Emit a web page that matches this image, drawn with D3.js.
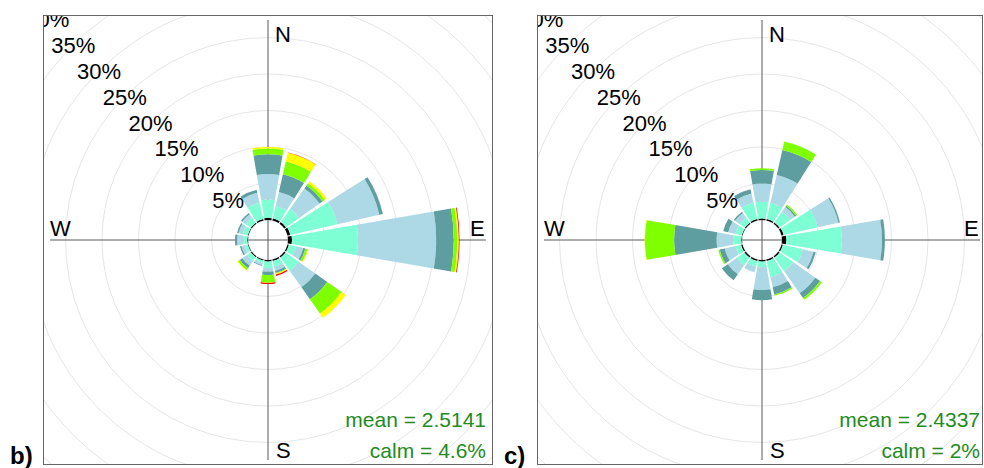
<!DOCTYPE html>
<html>
<head>
<meta charset="utf-8">
<script src="https://cdn.jsdelivr.net/npm/d3@7"></script>
<style>
  body { margin: 0; background: #fff; }
  svg { display: block; font-family: "Liberation Sans", Arial, sans-serif; }
</style>
</head>
<body>
<svg id="chart" width="984" height="468"></svg>
<script>
// wind directions (degrees, clockwise from north)
var directions = [0, 22.5, 45, 67.5, 90, 112.5, 135, 157.5, 180, 202.5, 225, 247.5, 270, 292.5, 315, 337.5];
var binColours = ["black", "aquamarine", "lightblue", "cadetblue", "chartreuse", "yellow", "red"];
var ringTicks = [5, 10, 15, 20, 25, 30, 35, 40];
var compass = ["N", "E", "S", "W"];

// panel b) - percentage of time per direction for each speed bin
var bBlack  = [0.3, 0.3, 0.3, 0.4, 0.55, 0.2, 0.2, 0.2, 0.2, 0.15, 0.15, 0.1, 0.1, 0.1, 0.15, 0.2];
var bAqua   = [2.5, 1.7, 2.2, 6.6, 9.05, 1.0, 2.2, 0.8, 0.9, 0.35, 0.65, 0.4, 0.5, 0.7, 0.85, 2.3];
var bLight  = [3.5, 2.0, 3.4, 5.9, 10.7, 1.0, 2.8, 0.6, 0.5, 0.3, 0.8, 0.5, 0.9, 0.6, 0.6, 1.4];
var bCadet  = [2.7, 2.5, 0.5, 0.5, 2.4, 0.3, 2.0, 0.3, 0.45, 0.1, 0.4, 0.2, 0.3, 0.2, 0.2, 0.4];
var bChart  = [0.8, 1.8, 0.4, 0, 0.5, 0.3, 2.4, 0.1, 1.05, 0, 0.3, 0, 0, 0, 0, 0];
var bYellow = [0.2, 1.2, 0.3, 0, 0.2, 0.1, 0.7, 0.1, 0.05, 0, 0.1, 0, 0, 0, 0, 0];
var bRed    = [0, 0.05, 0, 0, 0.1, 0, 0, 0.2, 0.15, 0, 0, 0, 0, 0, 0, 0];

// panel c)
var cBlack  = [0.2, 0.2, 0.2, 0.3, 0.6, 0.2, 0.2, 0.2, 0.2, 0.2, 0.2, 0.2, 0.1, 0.1, 0.15, 0.2];
var cAqua   = [2.3, 2.3, 1.8, 4.8, 7.6, 2.8, 2.3, 2.3, 0.8, 0.8, 1.3, 0.8, 1.1, 0.9, 0.85, 2.3];
var cLight  = [2.5, 3.9, 0.8, 2.9, 5.5, 1.5, 3.7, 1.4, 3.1, 0.8, 1.5, 1.5, 2.3, 1.0, 0.8, 1.3];
var cCadet  = [1.85, 3.5, 0.2, 0.2, 0.4, 0.3, 0.8, 1.0, 1.4, 0, 1.0, 0.7, 5.8, 0.7, 0.2, 0.6];
var cChart  = [0.25, 1.2, 0.2, 0, 0, 0, 0.3, 0.2, 0, 0, 0, 0.2, 4.0, 0, 0, 0];
var cYellow = [0, 0, 0, 0, 0, 0, 0, 0, 0, 0, 0, 0, 0.05, 0, 0, 0];
var cRed    = [0, 0, 0, 0, 0, 0, 0, 0, 0, 0, 0, 0, 0, 0, 0, 0];

var panelTags = ["b)", "c)"];
var meanText = ["mean = 2.5141", "mean = 2.4337"];
var calmText = ["calm = 4.6%", "calm = 2%"];

var svg = d3.select("#chart");

var panels = [
  {tag: panelTags[0], mean: meanText[0], calm: calmText[0], bins: [bBlack, bAqua, bLight, bCadet, bChart, bYellow, bRed], cx: 268, cy: 240, x0: 43, w: 450},
  {tag: panelTags[1], mean: meanText[1], calm: calmText[1], bins: [cBlack, cAqua, cLight, cCadet, cChart, cYellow, cRed], cx: 762, cy: 240, x0: 537, w: 446}
];

var y0 = 15, h = 450;
var offset = 20;
var r = d3.scaleLinear().domain([0, 40]).range([offset, offset + 292]);
var halfWidth = 9.75;
var arc = d3.arc();

panels.forEach(function(p, pi) {
  var clipId = "clip" + pi;
  svg.append("clipPath").attr("id", clipId)
    .append("rect").attr("x", p.x0).attr("y", y0).attr("width", p.w).attr("height", h);

  var g = svg.append("g").attr("clip-path", "url(#" + clipId + ")");
  var c = g.append("g").attr("transform", "translate(" + p.cx + "," + p.cy + ")");

  // grid rings
  c.selectAll("circle.ring")
    .data([0].concat(ringTicks))
    .enter().append("circle")
    .attr("class", "ring")
    .attr("r", function(d) { return r(d); })
    .attr("fill", "none")
    .attr("stroke", "#e6e6e6")
    .attr("stroke-width", 1);

  // axis lines
  c.append("line").attr("x1", -218).attr("x2", 218).attr("y1", 0).attr("y2", 0)
    .attr("stroke", "#5a5a5a").attr("stroke-width", 1);
  c.append("line").attr("x1", 0).attr("x2", 0).attr("y1", -220).attr("y2", 220)
    .attr("stroke", "#5a5a5a").attr("stroke-width", 1);

  // stacked sectors
  directions.forEach(function(dir, i) {
    var cum = 0;
    p.bins.forEach(function(bin, j) {
      var v = bin[i];
      if (v <= 0) { return; }
      var a0 = (dir - halfWidth) * Math.PI / 180;
      var a1 = (dir + halfWidth) * Math.PI / 180;
      c.append("path")
        .attr("d", arc({innerRadius: r(cum), outerRadius: r(cum + v), startAngle: a0, endAngle: a1}))
        .attr("fill", binColours[j]);
      cum += v;
    });
  });

  // ring labels along 315 degrees
  c.selectAll("text.tick")
    .data(ringTicks)
    .enter().append("text")
    .attr("class", "tick")
    .attr("x", function(d) { return -r(d) * Math.SQRT1_2; })
    .attr("y", function(d) { return -r(d) * Math.SQRT1_2; })
    .attr("dy", "0.36em")
    .attr("text-anchor", "middle")
    .style("font-size", "22px")
    .text(function(d) { return d + "%"; });

  // compass labels
  var pos = {N: [7, -198.5], E: [202, -4], S: [8, 218], W: [-218, -4]};
  compass.forEach(function(k) {
    c.append("text").attr("x", pos[k][0]).attr("y", pos[k][1])
      .style("font-size", "22px").text(k);
  });

  // mean / calm
  c.append("text").attr("x", 218).attr("y", 187).attr("text-anchor", "end")
    .attr("fill", "#228B22").style("font-size", "21px").text(p.mean);
  c.append("text").attr("x", 218).attr("y", 218).attr("text-anchor", "end")
    .attr("fill", "#228B22").style("font-size", "21px").text(p.calm);

  // frame
  svg.append("rect").attr("x", p.x0 + 0.5).attr("y", y0 + 0.5).attr("width", p.w - 1).attr("height", h - 1)
    .attr("fill", "none").attr("stroke", "#666").attr("stroke-width", 1);

  svg.append("text").attr("x", p.x0 - 33).attr("y", 464)
    .style("font-size", "24px").style("font-weight", "bold").text(p.tag);
});
</script>
</body>
</html>
